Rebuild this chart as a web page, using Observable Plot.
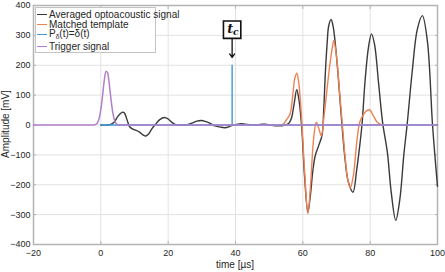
<!DOCTYPE html>
<html><head><meta charset="utf-8">
<script src="https://cdn.jsdelivr.net/npm/d3@7"></script>
<script src="https://cdn.jsdelivr.net/npm/@observablehq/plot@0.6"></script>
<style>
body{margin:0;background:#fff;font-family:"Liberation Sans",Arial,sans-serif;}
#wrap{position:relative;width:445px;height:272px;}
#wrap svg{display:block;}
#legend{position:absolute;left:35px;top:7px;width:121px;height:46px;background:#fff;border:1px solid #c4c4c4;font-size:10px;color:#262626;box-sizing:border-box;}
.row{position:absolute;left:1px;height:10px;display:flex;align-items:center;white-space:nowrap;}
.sw{width:10px;height:0;border-top:1.5px solid;margin-right:2px;}
sub{font-size:6.5px;vertical-align:-2px;}
#xt{position:absolute;left:0;width:470px;top:259px;height:12px;line-height:12px;text-align:center;font-size:10px;color:#262626;}
#yt{position:absolute;left:6px;top:124px;font-size:10px;color:#262626;white-space:nowrap;transform:translate(-50%,-50%) rotate(-90deg);line-height:12px;}
</style></head><body>
<div id="wrap"></div>
<script>
// ---- data ----
const seriesNames = ["Averaged optoacoustic signal","Matched template","P_δ(t)=δ(t)","Trigger signal"];
const xTitle = "time [µs]", yTitle = "Amplitude [mV]";
const xTicks = [-20,0,20,40,60,80,100];
const yTicks = [-400,-300,-200,-100,0,100,200,300,400];

const avgT = [0,2,3,4,5,6,6.5,7,8,8.5,9.5,10.5,11.5,12.5,13.4,14.2,15.2,16.4,17.5,18.9,20,21.2,22.4,23.5,25.4,27,28.5,29.9,31,32.2,33.3,34.3,35.5,36.8,38,38.8,40,41.8,43.5,45.8,47.5,48.8,50.7,52.7,54.2,55.2,56,56.7,57.4,58.2,58.9,59.7,60.5,61.5,62.2,63,63.7,64.7,65.7,66.2,66.7,67.2,67.7,68.4,69,70,71,71.6,72.5,73.5,74.9,76,77,77.6,78.5,79.5,80.4,81.3,82.5,83.7,85.1,86.3,87.6,88.8,90,91,92.5,94,95.5,97,98.5,99.5,100];
const avgV = [0,0,2,10,28,40,43,40,10,-5,-14,-18,-24,-33,-37,-30,-12,4,18,25,20,8,0,-1,0,6,13,15,12,7,0,-4,-7,-9,-6,-2,1,4,2,0,2,3,-1,-3,-2,1,8,26,70,118,80,-13,-170,-292,-240,-150,-102,-69,-35,50,177,270,333,353,330,230,90,4,-110,-190,-225,-150,-60,4,150,260,305,270,140,8,-91,-230,-319,-250,-100,4,180,320,366,280,4,-140,-205];

const tplT = [50,53,54.2,55,56.2,57,57.6,58.2,58.8,59.7,60.5,61.5,62.3,63.2,64,64.7,65.5,66.3,67.2,68,68.7,69.2,70,71,71.6,72.5,73.3,74.1,75,76,76.9,78,79,79.8,81,82.1,83.6,85];
const tplV = [0,0,3,15,37,100,155,173,140,10,-150,-297,-200,-46,9,-10,-37,30,121,200,255,283,230,100,21,-100,-180,-211,-170,-60,9,35,48,51,30,9,0,0];

const deltaT = [0,39,39,39,100];
const deltaV = [0,0,200,0,0];

const trigT = [-20,-2,-1.5,-1,-0.5,0,0.5,1,1.5,2,2.5,3,3.5,4,4.5,5,5.5,10,20,40,60,80,100];
const trigV = [0,0,2,7,22,52,97,148,180,175,138,88,45,18,6,1,0,0,0,0,0,0,0];

const tcTime = 39, tcBoxV = 319, tcArrowFrom = 289, tcArrowTo = 226;

// ---- build ----
const zip = (T,V) => T.map((t,i)=>({t, v:V[i]}));
const avg = zip(avgT, avgV), tpl = zip(tplT, tplV), del = zip(deltaT, deltaV), trig = zip(trigT, trigV);
const colors = ["#3a3a3a","#ef8253","#3d9be0","#b27fc8"];
const frameCol = "#b4b4b4";
const noText = () => "";

const chart = Plot.plot({
  width: 445, height: 272,
  marginLeft: 33, marginRight: 8, marginTop: 5, marginBottom: 28,
  style: {fontFamily: "'Liberation Sans', Arial, sans-serif", fontSize: "9px", color: "#262626", background: "#fff"},
  x: {domain: [-20, 100]},
  y: {domain: [-400, 400]},
  marks: [
    Plot.gridX(xTicks, {stroke: "#e2e2e2", strokeOpacity: 1}),
    Plot.gridY(yTicks, {stroke: "#e2e2e2", strokeOpacity: 1}),
    Plot.frame({stroke: frameCol, strokeWidth: 1.5}),
    Plot.axisX({ticks: xTicks, tickSize: 0, tickPadding: 5, label: null}),
    Plot.axisY({ticks: yTicks, tickSize: 0, tickPadding: 3, label: null}),
    Plot.axisX({anchor: "bottom", ticks: xTicks, tickSize: -3, tickFormat: noText, stroke: frameCol, label: null}),
    Plot.axisY({anchor: "left", ticks: yTicks, tickSize: -3, tickFormat: noText, stroke: frameCol, label: null}),
    Plot.axisX({anchor: "top", ticks: xTicks, tickSize: -3, tickFormat: noText, stroke: frameCol, label: null}),
    Plot.axisY({anchor: "right", ticks: yTicks, tickSize: -3, tickFormat: noText, stroke: frameCol, label: null}),
    Plot.line(avg, {x: "t", y: "v", stroke: colors[0], strokeWidth: 1.4, curve: "catmull-rom"}),
    Plot.line(tpl, {x: "t", y: "v", stroke: colors[1], strokeWidth: 1.4, curve: "catmull-rom"}),
    Plot.line(del, {x: "t", y: "v", stroke: colors[2], strokeWidth: 1.4}),
    Plot.line(trig, {x: "t", y: "v", stroke: colors[3], strokeWidth: 1.5, curve: "monotone-x"}),
    Plot.arrow([{t: tcTime}], {x: "t", y1: () => tcArrowFrom, y2: () => tcArrowTo, stroke: "#111", strokeWidth: 1.3, headLength: 5, headAngle: 70}),
    Plot.dot([{t: tcTime}], {x: "t", y: () => tcBoxV, symbol: "square", r: 9.8, fill: "white", stroke: "#111", strokeWidth: 1.6}),
    Plot.text([{t: tcTime}], {x: "t", y: () => tcBoxV, text: () => "t", dx: -2, dy: -1, fontSize: 13, fontWeight: "bold", fontStyle: "italic", fontFamily: "'DejaVu Serif', serif", fill: "#111"}),
    Plot.text([{t: tcTime}], {x: "t", y: () => tcBoxV, text: () => "c", dx: 3.5, dy: 2.5, fontSize: 9, fontWeight: "bold", fontStyle: "italic", fontFamily: "'DejaVu Serif', serif", fill: "#111"})
  ]
});
const wrap = document.getElementById("wrap");
wrap.appendChild(chart);

const xt = document.createElement("div"); xt.id = "xt"; xt.textContent = xTitle; wrap.appendChild(xt);
const yt = document.createElement("div"); yt.id = "yt"; yt.textContent = yTitle; wrap.appendChild(yt);

const legend = document.createElement("div");
legend.id = "legend";
const tops = [1, 11, 21, 33];
seriesNames.forEach((name, i) => {
  const row = document.createElement("div");
  row.className = "row";
  row.style.top = tops[i] + "px";
  const sw = document.createElement("span");
  sw.className = "sw";
  sw.style.borderTopColor = colors[i];
  row.appendChild(sw);
  const lab = document.createElement("span");
  if (name.includes("_δ")) {
    lab.innerHTML = "P<sub>δ</sub>(t)=δ(t)";
  } else lab.textContent = name;
  row.appendChild(lab);
  legend.appendChild(row);
});
wrap.appendChild(legend);
</script>
</body></html>
